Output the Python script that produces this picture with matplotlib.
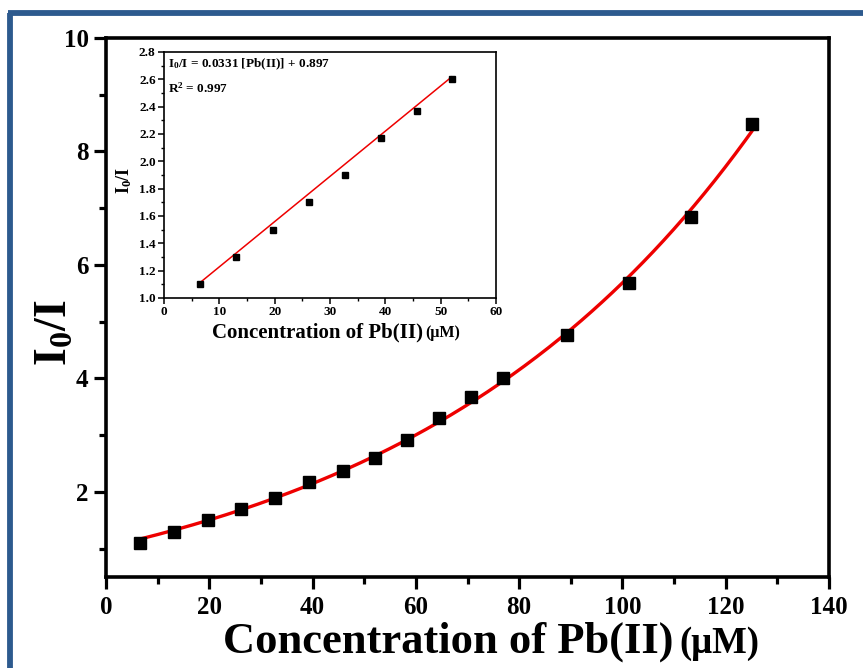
import numpy as np
import matplotlib
matplotlib.use("Agg")
import matplotlib.pyplot as plt
from matplotlib.ticker import MultipleLocator, FixedLocator
from matplotlib.lines import Line2D

plt.rcParams["font.family"] = ["Liberation Serif", "DejaVu Serif"]
plt.rcParams["font.weight"] = "bold"
plt.rcParams["mathtext.fontset"] = "custom"
plt.rcParams["mathtext.rm"] = "Liberation Serif:bold"
plt.rcParams["mathtext.it"] = "Liberation Serif:bold"
plt.rcParams["mathtext.bf"] = "Liberation Serif:bold"
plt.rcParams["mathtext.default"] = "regular"

# Pb(II) concentration (uM) and quenching ratio I0/I
conc = [6.5, 13.1, 19.7, 26.2, 32.8, 39.3, 45.8, 52.0,
        58.2, 64.4, 70.7, 76.9, 89.3, 101.3, 113.2, 125.0]
ratio = [1.10, 1.30, 1.50, 1.70, 1.90, 2.17, 2.37, 2.60,
         2.91, 3.30, 3.67, 4.00, 4.77, 5.68, 6.84, 8.48]

# linear range shown in the inset
n_linear = 8
slope, intercept = 0.0331, 0.897
r_squared = 0.997

main_xticks = [0, 20, 40, 60, 80, 100, 120, 140]
main_yticks = [2, 4, 6, 8, 10]
inset_xticks = [0, 10, 20, 30, 40, 50, 60]
inset_yticks = [1.0, 1.2, 1.4, 1.6, 1.8, 2.0, 2.2, 2.4, 2.6, 2.8]

x = np.asarray(conc)
y = np.asarray(ratio)

# exponential growth fit y = y0 + A*exp(x/t)
best = None
for t in np.linspace(20, 200, 3601):
    M = np.column_stack([np.ones_like(x), np.exp(x / t)])
    coef, *_ = np.linalg.lstsq(M, y, rcond=None)
    err = np.sum((M @ coef - y) ** 2)
    if best is None or err < best[0]:
        best = (err, t, coef)
_, t_fit, (y0_fit, a_fit) = best
xf = np.linspace(x[0], x[-1], 300)
yf = y0_fit + a_fit * np.exp(xf / t_fit)

W, H = 863, 668
fig = plt.figure(figsize=(W / 100, H / 100), dpi=100)
fig.patch.set_facecolor("white")
renderer = fig.canvas.get_renderer()


def label_with_unit(x0, y0, text, unit, size, unit_size, gap):
    """Axis title followed by a smaller unit, both on one baseline (pixels)."""
    t = fig.text(x0 / W, 1 - y0 / H, text, fontsize=size, fontweight="bold",
                 ha="left", va="baseline")
    ext = t.get_window_extent(renderer=renderer)
    fig.text((ext.x1 + gap) / W, 1 - y0 / H, unit, fontsize=unit_size,
             fontweight="bold", ha="left", va="baseline")


# frame lines along left and top edges
border = "#2d5a8e"
fig.add_artist(Line2D([10 / W, 10 / W], [0, 1 - 12.5 / H], color=border, lw=4.2,
                      transform=fig.transFigure, solid_capstyle="butt"))
fig.add_artist(Line2D([8 / W, 1], [1 - 12.5 / H, 1 - 12.5 / H], color=border, lw=4.2,
                      transform=fig.transFigure, solid_capstyle="butt"))

ax = fig.add_axes([106 / W, 1 - 577 / H, (829 - 106) / W, (577 - 38) / H])
ax.plot(xf, yf, color="#ee0000", lw=2.4, zorder=2)
ax.plot(x, y, ls="none", marker="s", ms=9.3, color="black", zorder=3)
ax.set_xlim(0, 140)
ax.set_ylim(0.5, 10)
ax.xaxis.set_major_locator(FixedLocator(main_xticks))
ax.yaxis.set_major_locator(FixedLocator(main_yticks))
ax.xaxis.set_minor_locator(MultipleLocator(10))
ax.yaxis.set_minor_locator(MultipleLocator(1))
for s in ax.spines.values():
    s.set_linewidth(2.6)
ax.tick_params(which="major", direction="out", length=8.5, width=2.3,
               labelsize=18, top=False, right=False)
ax.tick_params(axis="x", which="major", pad=5)
ax.tick_params(axis="y", which="major", pad=4)
ax.tick_params(which="minor", direction="out", length=5, width=2.3,
               top=False, right=False)
for lab in ax.get_xticklabels() + ax.get_yticklabels():
    lab.set_fontweight("bold")

label_with_unit(223, 653, "Concentration of Pb(II)", "(\u03bcM)", 32, 26.5, 6)
fig.text(56 / W, 1 - 333 / H, "I$_0$/I", fontsize=33, fontweight="bold",
         rotation=90, ha="center", va="center")

# inset: linear range
ins = fig.add_axes([164 / W, 1 - 298 / H, (496 - 164) / W, (298 - 52) / H])
xl = x[:n_linear]
yl = y[:n_linear]
ins.plot(xl, slope * xl + intercept, color="#ee0000", lw=1.1, zorder=2)
ins.plot(xl, yl, ls="none", marker="s", ms=3.8, color="black", zorder=3)
ins.set_xlim(0, 60)
ins.set_ylim(1.0, 2.8)
ins.xaxis.set_major_locator(FixedLocator(inset_xticks))
ins.yaxis.set_major_locator(FixedLocator(inset_yticks))
ins.xaxis.set_minor_locator(MultipleLocator(5))
ins.yaxis.set_minor_locator(MultipleLocator(0.1))
ins.set_yticklabels([f"{v:.1f}" for v in inset_yticks])
for s in ins.spines.values():
    s.set_linewidth(1.2)
ins.tick_params(which="major", direction="out", length=4, width=1.1,
                labelsize=9.5, pad=2, top=False, right=False)
ins.tick_params(which="minor", direction="out", length=2.5, width=1.0,
                top=False, right=False)
for lab in ins.get_xticklabels() + ins.get_yticklabels():
    lab.set_fontweight("bold")

label_with_unit(212, 337, "Concentration of Pb(II)", "(\u03bcM)", 15, 11.5, 2)
fig.text(124 / W, 1 - 180 / H, "I$_0$/I", fontsize=13, fontweight="bold",
         rotation=90, ha="center", va="center")

fig.text(168 / W, 1 - 67 / H,
         f"I$_0$/I = {slope:.4f} [Pb(II)] + {intercept:.3f}",
         fontsize=9.5, fontweight="bold", ha="left", va="baseline")
fig.text(168 / W, 1 - 93 / H, f"R$^2$ = {r_squared:.3f}",
         fontsize=9.5, fontweight="bold", ha="left", va="baseline")

fig.savefig("out.png", dpi=100, facecolor=fig.get_facecolor())
